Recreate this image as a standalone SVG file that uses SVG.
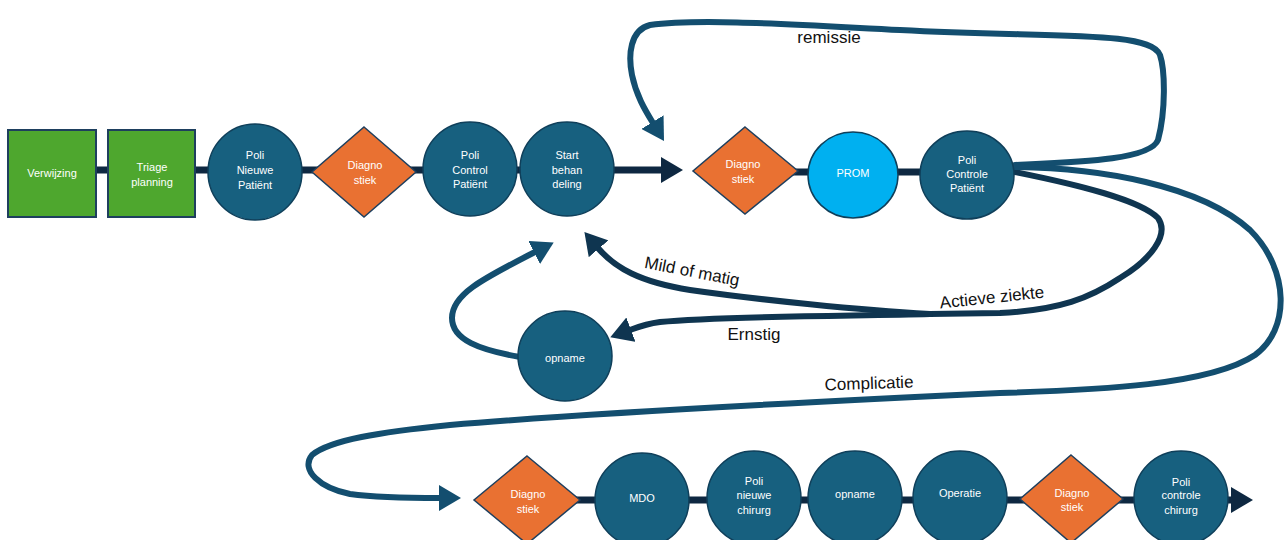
<svg xmlns="http://www.w3.org/2000/svg" width="1287" height="540" viewBox="0 0 1287 540">
  <style>
    .box { fill: #4ea72e; stroke: #1e3f5e; stroke-width: 2; }
    .circ { fill: #17607f; stroke: #0f3f5a; stroke-width: 1.5; }
    .prom { fill: #00b0f0; stroke: #0f3f5a; stroke-width: 1.5; }
    .dia { fill: #e97132; stroke: #1e3f5e; stroke-width: 1.5; }
    .nt { font-family: "Liberation Sans Narrow", "Liberation Sans", Arial, sans-serif; font-stretch: condensed; font-size: 11px; fill: #ffffff; text-anchor: middle; }
    .lbl { font-family: "Liberation Sans", Arial, sans-serif; font-size: 17px; fill: #111111; text-anchor: middle; }
    .main { fill: none; stroke: #0e2841; stroke-width: 7; }
    .loop { fill: none; stroke: #134e6f; stroke-width: 6; stroke-linecap: round; stroke-linejoin: round; }
    .dark { fill: none; stroke: #0f3550; stroke-width: 6; stroke-linecap: round; stroke-linejoin: round; }
  </style>
  <defs>
    <marker id="ahMain" viewBox="0 0 22 26" refX="1" refY="13" markerWidth="22" markerHeight="26" markerUnits="userSpaceOnUse" orient="auto">
      <path d="M0,0 L22,13 L0,26 z" fill="#0e2841"/>
    </marker>
    <marker id="ahLoop" viewBox="0 0 22 26" refX="1" refY="13" markerWidth="22" markerHeight="26" markerUnits="userSpaceOnUse" orient="auto">
      <path d="M0,0 L22,13 L0,26 z" fill="#134e6f"/>
    </marker>
    <marker id="ahDark" viewBox="0 0 22 26" refX="1" refY="13" markerWidth="22" markerHeight="26" markerUnits="userSpaceOnUse" orient="auto">
      <path d="M0,0 L22,13 L0,26 z" fill="#0f3550"/>
    </marker>
  </defs>

  <g id="connectors">
    <!-- top row flow -->
    <path class="main" d="M96 170 L662 170" marker-end="url(#ahMain)"/>
    <path class="main" d="M745 172 L967 172"/>
    <!-- bottom row flow -->
    <path class="main" d="M527 500 L1232 500" marker-end="url(#ahMain)"/>
    <!-- remissie loop back to diagnostiek -->
    <path class="loop" d="M1015 165 C1080 162 1150 160 1158 140 C1166 110 1165 70 1160 55 C1150 30 1050 38 900 30 C800 25 700 18 650 25 C630 30 628 55 632 75 C636 95 645 110 653 123" marker-end="url(#ahLoop)"/>
    <!-- actieve ziekte branch -->
    <path class="dark" d="M1015 172 C1080 185 1140 200 1158 218 C1170 235 1150 260 1120 278 C1090 298 1060 310 1000 313 L930 314"/>
    <path class="dark" d="M930 314 C860 310 760 300 690 290 C640 282 615 268 598 248" marker-end="url(#ahDark)"/>
    <path class="dark" d="M930 314 C850 316 720 316 660 322 C645 324 638 327 630 330" marker-end="url(#ahDark)"/>
    <!-- opname back to start behandeling -->
    <path class="loop" d="M520 357 C480 350 452 340 452 318 C452 295 480 280 535 252" marker-end="url(#ahLoop)"/>
    <!-- complicatie to surgical track -->
    <path class="loop" d="M1015 167 C1100 168 1200 185 1250 230 C1290 270 1290 330 1255 355 C1210 385 1100 390 1000 393 C850 400 600 412 450 425 C380 432 330 440 312 455 C300 470 320 488 350 494 C380 498 410 498 440 498" marker-end="url(#ahLoop)"/>
    <!-- labels -->
    <text class="lbl" x="829" y="43">remissie</text>
    <text class="lbl" x="692" y="277" transform="rotate(11 692 272)">Mild of matig</text>
    <text class="lbl" x="992" y="303" transform="rotate(-6 992 298)">Actieve ziekte</text>
    <text class="lbl" x="754" y="340">Ernstig</text>
    <text class="lbl" x="869" y="389" transform="rotate(-2 869 383)">Complicatie</text>
  </g>

  <!-- top row -->
  <g id="verwijzing">
    <rect class="box" x="8" y="130" width="88" height="87"/>
    <text class="nt" x="52" y="177">Verwijzing</text>
  </g>
  <g id="triage">
    <rect class="box" x="108" y="130" width="87" height="87"/>
    <text class="nt" x="152" y="171">Triage</text>
    <text class="nt" x="152" y="186">planning</text>
  </g>
  <g id="poli-nieuwe">
    <ellipse class="circ" cx="255" cy="172" rx="47" ry="48"/>
    <text class="nt" x="255" y="159">Poli</text>
    <text class="nt" x="255" y="174">Nieuwe</text>
    <text class="nt" x="255" y="189">Patiënt</text>
  </g>
  <g id="diagnostiek-1">
    <polygon class="dia" points="364,127 416,172 364,217 312,172"/>
    <text class="nt" x="365" y="169">Diagno</text>
    <text class="nt" x="365" y="184">stiek</text>
  </g>
  <g id="poli-control">
    <circle class="circ" cx="470" cy="169" r="47"/>
    <text class="nt" x="470" y="159">Poli</text>
    <text class="nt" x="470" y="174">Control</text>
    <text class="nt" x="470" y="188">Patiënt</text>
  </g>
  <g id="start-behandeling">
    <circle class="circ" cx="567" cy="169" r="47"/>
    <text class="nt" x="567" y="159">Start</text>
    <text class="nt" x="567" y="174">behan</text>
    <text class="nt" x="567" y="188">deling</text>
  </g>
  <g id="diagnostiek-2">
    <polygon class="dia" points="745,127 798,171 745,214 693,171"/>
    <text class="nt" x="743" y="168">Diagno</text>
    <text class="nt" x="743" y="183">stiek</text>
  </g>
  <g id="prom">
    <ellipse class="prom" cx="853" cy="175" rx="45" ry="43"/>
    <text class="nt" x="853" y="177">PROM</text>
  </g>
  <g id="poli-controle">
    <ellipse class="circ" cx="967" cy="175" rx="47" ry="44"/>
    <text class="nt" x="967" y="164">Poli</text>
    <text class="nt" x="967" y="178">Controle</text>
    <text class="nt" x="967" y="192">Patiënt</text>
  </g>

  <!-- middle -->
  <g id="opname-1">
    <ellipse class="circ" cx="565" cy="356" rx="47" ry="45"/>
    <text class="nt" x="565" y="362">opname</text>
  </g>

  <!-- bottom row -->
  <g id="diagnostiek-3">
    <polygon class="dia" points="527,456 580,500 527,544 474,500"/>
    <text class="nt" x="528" y="498">Diagno</text>
    <text class="nt" x="528" y="513">stiek</text>
  </g>
  <g id="mdo">
    <circle class="circ" cx="642" cy="500" r="47"/>
    <text class="nt" x="642" y="502">MDO</text>
  </g>
  <g id="poli-nieuwe-chirurg">
    <circle class="circ" cx="754" cy="498" r="47"/>
    <text class="nt" x="754" y="485">Poli</text>
    <text class="nt" x="754" y="499">nieuwe</text>
    <text class="nt" x="754" y="514">chirurg</text>
  </g>
  <g id="opname-2">
    <circle class="circ" cx="855" cy="498" r="47"/>
    <text class="nt" x="855" y="498">opname</text>
  </g>
  <g id="operatie">
    <circle class="circ" cx="960" cy="498" r="47"/>
    <text class="nt" x="960" y="497">Operatie</text>
  </g>
  <g id="diagnostiek-4">
    <polygon class="dia" points="1071,455 1123,499 1071,543 1020,499"/>
    <text class="nt" x="1072" y="497">Diagno</text>
    <text class="nt" x="1072" y="511">stiek</text>
  </g>
  <g id="poli-controle-chirurg">
    <circle class="circ" cx="1181" cy="498" r="47"/>
    <text class="nt" x="1181" y="486">Poli</text>
    <text class="nt" x="1181" y="499">controle</text>
    <text class="nt" x="1181" y="514">chirurg</text>
  </g>
</svg>
